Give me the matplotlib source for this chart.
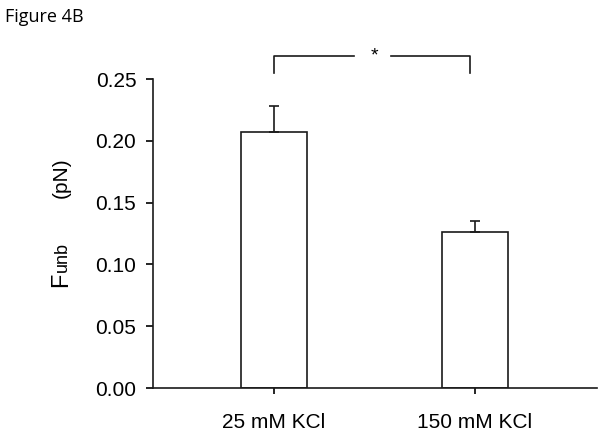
import numpy as np
import matplotlib.pyplot as plt

plt.rcParams['font.family'] = ['Liberation Sans', 'DejaVu Sans']

# Data
conditions = ['25 mM KCl', '150 mM KCl']
f_unb = [0.207, 0.126]     # mean unbinding force (pN)
f_err = [0.021, 0.009]     # upper error (SEM)
y_ticks = [0.00, 0.05, 0.10, 0.15, 0.20, 0.25]

fig = plt.figure(figsize=(6.03, 4.36), dpi=100)
ax = fig.add_axes([0.2537, 0.110, 0.7363, 0.7087])

x = np.arange(len(conditions))
lw = 1.2
ax.bar(x, f_unb, width=0.33, color='white', edgecolor='#1a1a1a', linewidth=lw, zorder=2)
ax.errorbar(x, f_unb, yerr=[np.zeros(len(f_err)), f_err], fmt='none',
            ecolor='#1a1a1a', elinewidth=lw, capsize=3.6, capthick=lw, zorder=3)

ax.set_xlim(-0.602, 1.607)
ax.set_ylim(0, 0.25)
ax.set_xticks(x)
ax.set_xticklabels(conditions, fontsize=15)
ax.set_yticks(y_ticks)
ax.set_yticklabels([f'{t:.2f}' for t in y_ticks], fontsize=15)
ax.tick_params(axis='y', length=5, width=lw, pad=7)
ax.tick_params(axis='x', length=4, width=lw, pad=14)
for s in ['top', 'right']:
    ax.spines[s].set_visible(False)
for s in ['left', 'bottom']:
    ax.spines[s].set_linewidth(lw)
    ax.spines[s].set_color('#1a1a1a')

# significance bracket
xa, xb = x[0], x[1] - 0.025
yt, yb = 0.2686, 0.255
mid = (x[0] + x[1]) / 2
ax.plot([xa, xa, mid - 0.10], [yb, yt, yt], color='#1a1a1a', lw=lw, clip_on=False)
ax.plot([mid + 0.08, xb, xb], [yt, yt, yb], color='#1a1a1a', lw=lw, clip_on=False)
ax.text(mid, yt, '*', ha='center', va='center', fontsize=14, clip_on=False)

# y label: "F" + "unb" on a common baseline, then the unit
base_x = 67 / 603
fig.text(base_x, 1 - 287 / 436, 'F', rotation=90, rotation_mode='anchor',
         ha='left', va='baseline', fontsize=17)
fig.text(base_x, 1 - 272 / 436, 'unb', rotation=90, rotation_mode='anchor',
         ha='left', va='baseline', fontsize=13)
fig.text(base_x, 1 - 198 / 436, '(pN)', rotation=90, rotation_mode='anchor',
         ha='left', va='baseline', fontsize=15)

fig.text(5 / 603, 1 - 17 / 436, 'Figure 4B', ha='left', va='center', fontsize=13,
         family=['Open Sans', 'DejaVu Sans'])

fig.savefig('out.png', dpi=100)
